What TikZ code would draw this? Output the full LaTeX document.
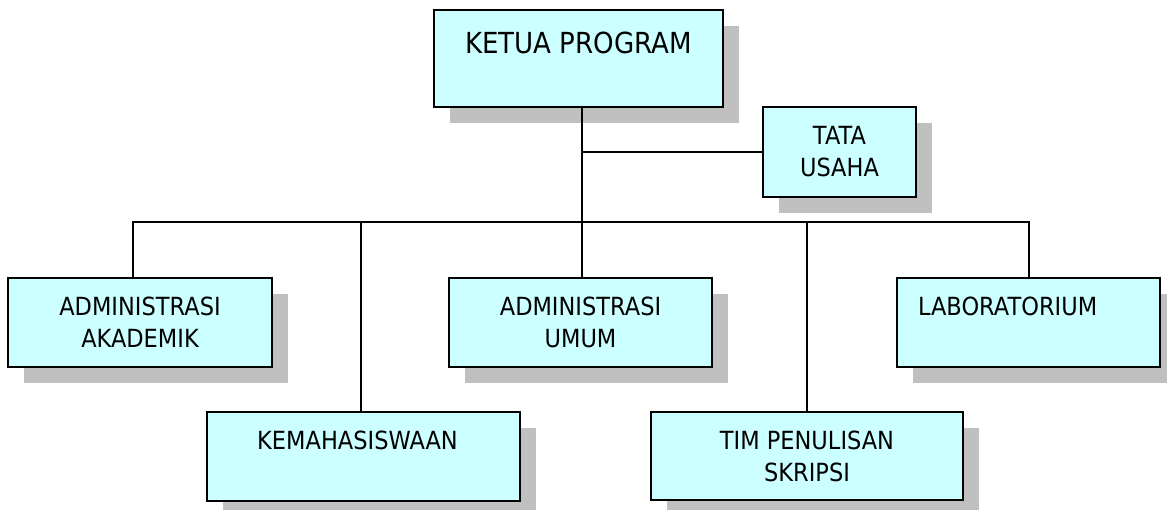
\documentclass[tikz,border=0pt]{standalone}
\usepackage{fontspec}
\setmainfont{DejaVu Sans}[FakeStretch=0.9]
\usetikzlibrary{shadows}
\definecolor{boxfill}{HTML}{CCFFFF}
\definecolor{shadowgray}{HTML}{C0C0C0}
\begin{document}
\begin{tikzpicture}[x=1pt,y=-1pt,
  box/.style={draw=black, line width=1.8pt, fill=boxfill, align=center, inner sep=0pt,
    general shadow={fill=shadowgray, shadow xshift=16pt, shadow yshift=-16pt},
    font=\fontsize{25}{32}\selectfont},
  conn/.style={line width=1.8pt, line cap=rect}]
\useasboundingbox (0,0) rectangle (1167,510);
\node[box, minimum width=289pt, minimum height=97pt, font=\fontsize{29}{32}\selectfont] (ketua) at (578.5,58.5) {KETUA PROGRAM\\\mbox{}};
\node[box, minimum width=153pt, minimum height=90pt] (tu) at (839.5,152) {TATA\\USAHA};
\node[box, minimum width=264pt, minimum height=89pt] (akad) at (140,322.5) {ADMINISTRASI\\AKADEMIK};
\node[box, minimum width=263pt, minimum height=89pt] (umum) at (580.5,322.5) {ADMINISTRASI\\UMUM};
\node[box, minimum width=263pt, minimum height=89pt, text width=221pt, align=left] (lab) at (1028.5,322.5) {LABORATORIUM\\\mbox{}};
\node[box, minimum width=313pt, minimum height=89pt] (kema) at (363.5,456.5) {KEMAHASISWAAN\hspace*{12pt}\\\mbox{}};
\node[box, minimum width=312pt, minimum height=88pt] (tim) at (807,456) {TIM PENULISAN\\SKRIPSI};
\coordinate (trunk) at (582,222);
\coordinate (b1) at (133,222);
\coordinate (b2) at (361,222);
\coordinate (b4) at (807,222);
\coordinate (b5) at (1029,222);
\draw[conn] (ketua.south -| trunk) -- (umum.north -| trunk);
\draw[conn] (trunk |- tu.west) -- (tu.west);
\draw[conn] (b1) -- (b5);
\draw[conn] (b1) -- (b1 |- akad.north);
\draw[conn] (b2) -- (b2 |- kema.north);
\draw[conn] (b4) -- (b4 |- tim.north);
\draw[conn] (b5) -- (b5 |- lab.north);
\end{tikzpicture}
\end{document}
